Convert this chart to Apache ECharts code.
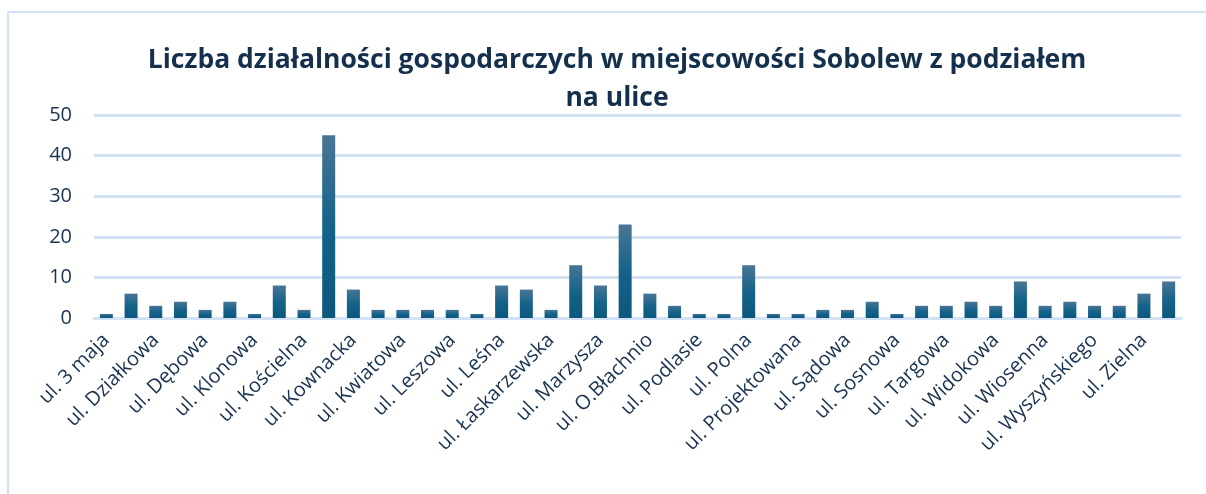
<!DOCTYPE html>
<html>
<head>
<meta charset="utf-8">
<script src="https://cdn.jsdelivr.net/npm/echarts@6/dist/echarts.min.js"></script>
<style>
html, body { margin: 0; padding: 0; background: #fff; }
#frame { position: absolute; left: 7px; top: 11px; width: 1199px; height: 483px;
  border-left: 2px solid #d2e2f4; border-top: 2px solid #d2e2f4; box-sizing: border-box; }
#main { position: absolute; left: 0; top: 0; width: 1206px; height: 494px; }
</style>
</head>
<body>
<div id="frame"></div>
<div id="main"></div>
<script>
// ulice (co druga etykieta widoczna na osi)
var streets = [
  'ul. 3 maja', 'ul. Cicha', 'ul. Działkowa', 'ul. Długa', 'ul. Dębowa', 'ul. Garwolińska',
  'ul. Klonowa', 'ul. Kolejowa', 'ul. Kościelna', 'ul. Kościuszki', 'ul. Kownacka', 'ul. Krótka',
  'ul. Kwiatowa', 'ul. Laskowa', 'ul. Leszowa', 'ul. Letnia', 'ul. Leśna', 'ul. Lubelska',
  'ul. Łaskarzewska', 'ul. Łąkowa', 'ul. Marzysza', 'ul. Mickiewicza', 'ul. O.Błachnio', 'ul. Ogrodowa',
  'ul. Podlasie', 'ul. Pogodna', 'ul. Polna', 'ul. Prosta', 'ul. Projektowana', 'ul. Rynek',
  'ul. Sądowa', 'ul. Słoneczna', 'ul. Sosnowa', 'ul. Szkolna', 'ul. Targowa', 'ul. Warszawska',
  'ul. Widokowa', 'ul. Wiejska', 'ul. Wiosenna', 'ul. Wspólna', 'ul. Wyszyńskiego', 'ul. Zacisze',
  'ul. Zielna', 'ul. Żytnia'
];
// liczba działalności
var counts = [
  1, 6, 3, 4, 2, 4, 1, 8, 2, 45, 7, 2, 2, 2, 2, 1, 8, 7, 2, 13, 8, 23,
  6, 3, 1, 1, 13, 1, 1, 2, 2, 4, 1, 3, 3, 4, 3, 9, 3, 4, 3, 3, 6, 9
];
var yTicks = { min: 0, max: 50, interval: 10 };

var myChart = echarts.init(document.getElementById('main'));
var textColor = '#1a3350';
var gridColor = '#d2e2f4';

var option = {
  animation: false,
  title: {
    text: 'Liczba działalności gospodarczych w miejscowości Sobolew z podziałem\nna ulice',
    left: 612,
    top: 36,
    textAlign: 'center',
    textStyle: {
      fontFamily: 'Open Sans',
      fontWeight: 'bold',
      fontSize: 26.5,
      lineHeight: 38,
      color: '#14304d'
    }
  },
  grid: { left: 94, right: 25, top: 115, bottom: 176 },
  xAxis: {
    type: 'category',
    data: streets,
    axisLine: { lineStyle: { color: gridColor, width: 3 } },
    axisTick: { show: false },
    axisLabel: {
      interval: 1,
      rotate: 45,
      margin: 19,
      fontFamily: 'Open Sans',
      fontSize: 20,
      color: textColor
    }
  },
  yAxis: {
    type: 'value',
    min: yTicks.min,
    max: yTicks.max,
    interval: yTicks.interval,
    axisLine: { show: false },
    axisTick: { show: false },
    axisLabel: {
      margin: 22,
      fontFamily: 'Open Sans',
      fontSize: 20,
      color: textColor
    },
    splitLine: { lineStyle: { color: gridColor, width: 3 } }
  },
  series: [{
    type: 'bar',
    data: counts,
    barWidth: 13,
    itemStyle: {
      color: new echarts.graphic.LinearGradient(0, 0, 0, 1, [
        { offset: 0, color: '#4a7595' },
        { offset: 0.5, color: '#15638a' },
        { offset: 1, color: '#0c577c' }
      ])
    }
  }]
};
myChart.setOption(option, true);
</script>
</body>
</html>
